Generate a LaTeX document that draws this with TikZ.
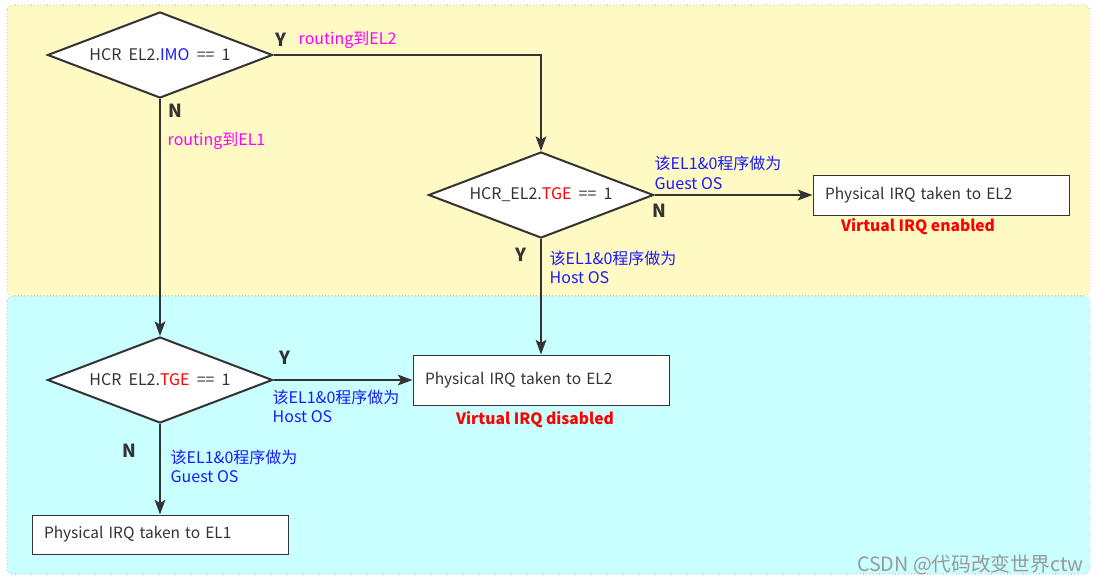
\documentclass[tikz,border=0pt]{standalone}
\usepackage{fontspec}
\setmainfont{Noto Sans CJK SC}
\usetikzlibrary{shapes.geometric,arrows.meta}
\definecolor{zoneyellow}{HTML}{FFF9C4}
\definecolor{zonecyan}{HTML}{C9FFFF}
\definecolor{linegray}{HTML}{333333}
\definecolor{noteblue}{HTML}{1A1AFF}
\definecolor{routemag}{HTML}{FF00FF}

\begin{document}
\begin{tikzpicture}[x=0.75pt,y=-0.75pt,
  zone/.style={draw=gray,dotted,rounded corners=4pt},
  cond/.style={diamond,aspect=2.6,draw=linegray,line width=1.5pt,fill=white,minimum width=168.75pt,minimum height=64.5pt,inner sep=0pt,text=linegray,font=\fontsize{12}{14}\selectfont},
  result/.style={draw=linegray,line width=0.75pt,fill=white,inner xsep=9pt,text width=174pt,align=left,minimum height=30pt,text=linegray,font=\fontsize{11.6}{13}\selectfont},
  flow/.style={draw=linegray,line width=1.5pt,-{Stealth[length=11pt,width=8pt,inset=2.5pt]}},
  yn/.style={text=linegray,font=\bfseries\fontsize{13.5}{15}\selectfont},
  route/.style={anchor=west,text=routemag,font=\fontsize{12}{14}\selectfont},
  note/.style={anchor=west,align=left,text=noteblue,font=\fontsize{12}{14.5}\selectfont},
  virq/.style={text=red,font=\bfseries\fontsize{11.7}{13}\selectfont}]
\useasboundingbox (0,0) rectangle (1098,583);
\filldraw[zone,fill=zoneyellow] (7,5) rectangle (1090,296);
\filldraw[zone,fill=zonecyan] (7,296) rectangle (1090,574);

\node[cond] (imo) at (160,55) {HCR\ \ EL2.\textcolor{noteblue}{IMO}\ \ ==\ \ 1};
\node[cond] (tgea) at (541,195) {HCR\_EL2.\textcolor{red}{TGE}\ \ ==\ \ 1};
\node[cond] (tgeb) at (160,380) {HCR\ \ EL2.\textcolor{red}{TGE}\ \ ==\ \ 1};

\node[result] (el2a) at (941,195) {Physical IRQ taken to EL2};
\node[result,minimum height=37.5pt] (el2b) at (541,380) {Physical IRQ taken to EL2};
\node[result,minimum height=29.25pt] (el1) at (160,534.5) {Physical IRQ taken to EL1};

\draw[flow] (imo.east) -| (tgea.north);
\draw[flow] (imo.south) -- (tgeb.north);
\draw[flow] (tgea.east) -- (el2a.west);
\draw[flow] (tgea.south) -- (el2b.north);
\draw[flow] (tgeb.east) -- (el2b.west);
\draw[flow] (tgeb.south) -- (el1.north);

\node[yn] (imoy) at (281,40) {Y};
\node[route] (toel2) at (294,40) {routing到EL2};
\node[yn] (imon) at (175,111) {N};
\node[route] (toel1) at (163,141) {routing到EL1};

\node[note] (guesta) at (650,173) {该EL1\&0程序做为\\Guest OS};
\node[yn] (tgean) at (659,211) {N};
\node[yn] (tgeay) at (521,255) {Y};
\node[note] (hosta) at (545,267.5) {该EL1\&0程序做为\\Host OS};

\node[yn] (tgeby) at (285,358) {Y};
\node[note] (hostb) at (268,406.5) {该EL1\&0程序做为\\Host OS};
\node[yn] (tgebn) at (129,451) {N};
\node[note] (guestb) at (166,466.5) {该EL1\&0程序做为\\Guest OS};

\node[virq] (venabled) at (918,227) {Virtual IRQ enabled};
\node[virq] (vdisabled) at (535,420) {Virtual IRQ disabled};

\node[anchor=east,text=gray!80,font=\fontsize{14.8}{16}\selectfont] (mark) at (1088,565) {CSDN @代码改变世界ctw};
\end{tikzpicture}
\end{document}
